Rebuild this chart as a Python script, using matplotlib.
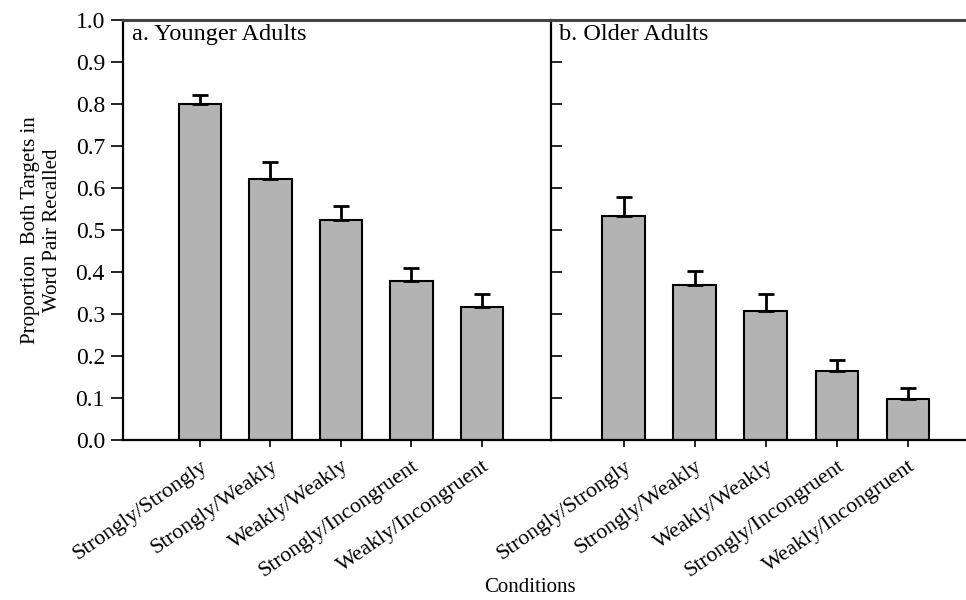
import numpy as np
import matplotlib
matplotlib.use("Agg")
import matplotlib.pyplot as plt

conditions = ["Strongly/Strongly", "Strongly/Weakly", "Weakly/Weakly",
              "Strongly/Incongruent", "Weakly/Incongruent"]
younger_mean = [0.800, 0.621, 0.525, 0.378, 0.317]
younger_err = [0.022, 0.042, 0.031, 0.031, 0.030]
older_mean = [0.533, 0.368, 0.308, 0.165, 0.098]
older_err = [0.046, 0.035, 0.039, 0.025, 0.026]

plt.rcParams["font.family"] = ["Liberation Serif", "DejaVu Serif"]

fig = plt.figure(figsize=(9.66, 6), dpi=100)
ax1 = fig.add_axes([123 / 966, 1 - 440 / 600, (551 - 123) / 966, 420 / 600])
ax2 = fig.add_axes([551 / 966, 1 - 440 / 600, (966 - 551) / 966 + 0.01, 420 / 600])

bar_color = "#b3b3b3"
x = np.arange(len(conditions))

def draw_panel(ax, means, errs, title):
    ax.bar(x, means, width=0.6, color=bar_color, edgecolor="black", linewidth=1.5, zorder=2)
    ax.errorbar(x, means, yerr=[np.zeros(len(errs)), errs], fmt="none", ecolor="black",
                elinewidth=2, capsize=6, capthick=2, zorder=3)
    ax.set_ylim(0, 1.0)
    ax.set_xticks(x)
    ax.set_xticklabels(conditions, rotation=35, ha="right", rotation_mode="anchor", fontsize=16)
    ax.tick_params(axis="x", direction="out", length=5, width=1.2, pad=7)
    ax.text(0.02, 0.99, title, transform=ax.transAxes, ha="left", va="top", fontsize=17.5)
    for s in ax.spines.values():
        s.set_linewidth(1.6)
    ax.spines["top"].set_color("#444444")
    ax.spines["top"].set_linewidth(2.2)

draw_panel(ax1, younger_mean, younger_err, "a. Younger Adults")
draw_panel(ax2, older_mean, older_err, "b. Older Adults")

ax1.set_xlim(-1.09, 4.98)
ax2.set_xlim(-1.02, 4.95)

ax1.spines["right"].set_visible(False)
ax2.spines["right"].set_visible(False)

yt = np.round(np.arange(0, 1.01, 0.1), 1)
ax1.set_yticks(yt)
ax1.set_yticklabels([f"{v:.1f}" for v in yt], fontsize=17)
ax1.tick_params(axis="y", direction="out", length=9, width=1.2, pad=4)
ax2.set_yticks(yt)
ax2.set_yticklabels([])
ax2.tick_params(axis="y", direction="in", length=8, width=1.2)

ax1.set_ylabel("Proportion  Both Targets in\nWord Pair Recalled", fontsize=15, linespacing=1.2, labelpad=10)
fig.text(530 / 966, 1 - 588 / 600, "Conditions", ha="center", va="center", fontsize=15)

fig.savefig("out.png", dpi=100)
